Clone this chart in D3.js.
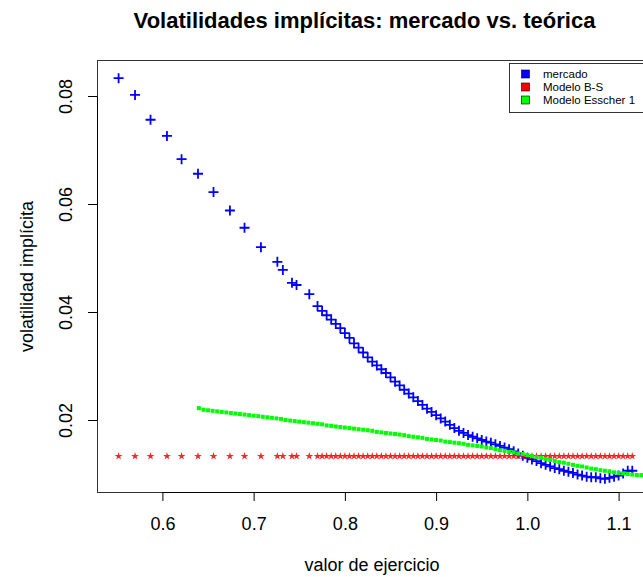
<!DOCTYPE html>
<html>
<head>
<meta charset="utf-8">
<script src="https://cdn.jsdelivr.net/npm/d3@7"></script>
<style>
body { margin: 0; background: #fff; }
text { font-family: "Liberation Sans", Arial, sans-serif; fill: #000; }
</style>
</head>
<body>
<svg width="643" height="577"></svg>
<script>
// strikes and implied vols
var marketStrike = [0.552, 0.570, 0.587, 0.605, 0.621, 0.639, 0.656, 0.674, 0.690, 0.708, 0.726, 0.732, 0.742, 0.747, 0.761,
    0.770, 0.775, 0.780, 0.785, 0.790, 0.795, 0.800, 0.805, 0.810, 0.815, 0.820, 0.825, 0.830, 0.835, 0.840, 0.845,
    0.850, 0.855, 0.860, 0.865, 0.870, 0.875, 0.880, 0.885, 0.890, 0.895, 0.900, 0.905, 0.910, 0.915, 0.920, 0.925,
    0.930, 0.935, 0.940, 0.945, 0.950, 0.955, 0.960, 0.965, 0.970, 0.975, 0.980, 0.985, 0.990, 0.995, 1.000, 1.005,
    1.010, 1.015, 1.020, 1.025, 1.030, 1.035, 1.040, 1.045, 1.050, 1.055, 1.060, 1.065, 1.070, 1.075, 1.080, 1.085,
    1.090, 1.095, 1.100, 1.105, 1.110, 1.115];
var marketVol = [0.0833, 0.0802, 0.0756, 0.0726, 0.0683, 0.0656, 0.0622, 0.0588, 0.0556, 0.0520, 0.0493, 0.0478, 0.0454, 0.0450, 0.0433,
    0.0411, 0.0402, 0.0394, 0.0386, 0.0378, 0.0370, 0.0361, 0.0352, 0.0342, 0.0334,
    0.0325, 0.0316, 0.0308, 0.0301, 0.0294, 0.0287, 0.0279, 0.0271, 0.0264, 0.0256,
    0.0249, 0.0242, 0.0235, 0.0228, 0.0221, 0.0215, 0.0209, 0.0203, 0.0197, 0.0191,
    0.0185, 0.0180, 0.0176, 0.0172, 0.0169, 0.0166, 0.0163, 0.0160, 0.0158, 0.0155,
    0.0152, 0.0149, 0.0146, 0.0142, 0.0138, 0.0134, 0.0130, 0.0127, 0.0124, 0.0120,
    0.0117, 0.0114, 0.0111, 0.0109, 0.0106, 0.0104, 0.0102, 0.0099, 0.0097, 0.0095,
    0.0094, 0.0094, 0.0092, 0.0091, 0.0093, 0.0095, 0.0097, 0.0101, 0.0106, 0.0106];

// Black-Scholes gives one flat volatility for every strike
var bsSigma = 0.0133;

var esscherStrike = [0.640, 0.645, 0.650, 0.655, 0.660, 0.665, 0.670, 0.675, 0.680, 0.685, 0.690, 0.695, 0.700,
    0.705, 0.710, 0.715, 0.720, 0.725, 0.730, 0.735, 0.740, 0.745, 0.750, 0.755, 0.760, 0.765, 0.770, 0.775, 0.780,
    0.785, 0.790, 0.795, 0.800, 0.805, 0.810, 0.815, 0.820, 0.825, 0.830, 0.835, 0.840, 0.845, 0.850, 0.855, 0.860,
    0.865, 0.870, 0.875, 0.880, 0.885, 0.890, 0.895, 0.900, 0.905, 0.910, 0.915, 0.920, 0.925, 0.930, 0.935, 0.940,
    0.945, 0.950, 0.955, 0.960, 0.965, 0.970, 0.975, 0.980, 0.985, 0.990, 0.995, 1.000, 1.005, 1.010, 1.015, 1.020,
    1.025, 1.030, 1.035, 1.040, 1.045, 1.050, 1.055, 1.060, 1.065, 1.070, 1.075, 1.080, 1.085, 1.090, 1.095, 1.100,
    1.105, 1.110, 1.115, 1.120, 1.125, 1.130, 1.135, 1.140];
var esscherVol = [0.0222, 0.0219, 0.0218, 0.0217, 0.0216, 0.0215, 0.0214, 0.0213, 0.0212, 0.0211, 0.0210, 0.0209, 0.0208,
    0.0207, 0.0206, 0.0205, 0.0204, 0.0203, 0.0202, 0.0200, 0.0199, 0.0198, 0.0197, 0.0196, 0.0195, 0.0194, 0.0193, 0.0192, 0.0190,
    0.0189, 0.0188, 0.0187, 0.0186, 0.0185, 0.0184, 0.0183, 0.0182, 0.0181, 0.0180, 0.0178, 0.0177, 0.0176, 0.0175, 0.0174, 0.0173,
    0.0172, 0.0170, 0.0169, 0.0168, 0.0167, 0.0165, 0.0164, 0.0163, 0.0162, 0.0160, 0.0159, 0.0158, 0.0157, 0.0156, 0.0154, 0.0153,
    0.0152, 0.0151, 0.0149, 0.0148, 0.0146, 0.0144, 0.0143, 0.0141, 0.0140, 0.0138, 0.0137, 0.0135, 0.0133, 0.0131, 0.0130, 0.0128,
    0.0126, 0.0124, 0.0122, 0.0121, 0.0119, 0.0117, 0.0115, 0.0114, 0.0112, 0.0110, 0.0109, 0.0107, 0.0106, 0.0105, 0.0103, 0.0102,
    0.0101, 0.0100, 0.0099, 0.0098, 0.0098, 0.0097, 0.0096, 0.0096];

var xTicks = [0.6, 0.7, 0.8, 0.9, 1.0, 1.1];
var yTicks = [0.02, 0.04, 0.06, 0.08];
var legendLabels = ['mercado', 'Modelo B-S', 'Modelo Esscher 1'];
var legendColors = ['#0000ff', '#ff0000', '#00ff00'];

var svg = d3.select('svg');

// plot region (the right side runs past the window, like the original)
var box = {l: 97.5, t: 60.5, r: 760, b: 492.5};

var x = d3.scaleLinear().domain([0.6, 1.1]).range([162.4, 618.6]);
var y = d3.scaleLinear().domain([0.02, 0.08]).range([420, 96]);

svg.append('clipPath').attr('id', 'plotclip')
  .append('rect')
  .attr('x', box.l).attr('y', box.t)
  .attr('width', box.r - box.l).attr('height', box.b - box.t);

// title
svg.append('text')
  .attr('x', 364.5).attr('y', 28)
  .attr('text-anchor', 'middle')
  .style('font-size', '22px').style('font-weight', 'bold')
  .text('Volatilidades implícitas: mercado vs. teórica');

// frame
svg.append('rect')
  .attr('x', box.l).attr('y', box.t)
  .attr('width', box.r - box.l).attr('height', box.b - box.t)
  .attr('fill', 'none').attr('stroke', '#333').attr('stroke-width', 1);

// axes
var xAxis = svg.append('g')
  .attr('transform', 'translate(0,492)')
  .call(d3.axisBottom(x).tickValues(xTicks).tickSize(9).tickSizeOuter(0).tickFormat(d3.format('.1f')));
xAxis.selectAll('text')
  .attr('y', 38).attr('dy', null)
  .style('font-size', '18px');

var yAxis = svg.append('g')
  .attr('transform', 'translate(97,0)')
  .call(d3.axisLeft(y).tickValues(yTicks).tickSize(9).tickSizeOuter(0).tickFormat(d3.format('.2f')));
yAxis.selectAll('text')
  .attr('x', null).attr('dy', null)
  .attr('text-anchor', 'middle')
  .attr('transform', 'translate(-25,0) rotate(-90)')
  .style('font-size', '18px');

svg.selectAll('.domain, .tick line').attr('stroke', '#000');

// axis titles
svg.append('text')
  .attr('x', 372).attr('y', 571)
  .attr('text-anchor', 'middle')
  .style('font-size', '18px')
  .text('valor de ejercicio');

svg.append('text')
  .attr('transform', 'translate(33,' + ((box.t + box.b) / 2) + ') rotate(-90)')
  .attr('text-anchor', 'middle')
  .style('font-size', '18px')
  .text('volatilidad implícita');

var plot = svg.append('g').attr('clip-path', 'url(#plotclip)');

// market: blue crosses
var market = marketStrike.map(function(k, i) { return {k: k, v: marketVol[i]}; });
var plus = 5;
plot.selectAll('.market')
  .data(market)
  .enter()
  .append('path')
  .attr('class', 'market')
  .attr('d', function(d) {
      var cx = x(d.k), cy = y(d.v);
      return 'M' + (cx - plus) + ',' + cy + 'H' + (cx + plus) +
             'M' + cx + ',' + (cy - plus) + 'V' + (cy + plus);
  })
  .attr('stroke', legendColors[0])
  .attr('stroke-width', 1.8)
  .attr('fill', 'none');

// Black-Scholes: red stars at each market strike
var star = d3.symbol().type(d3.symbolStar).size(19);
plot.selectAll('.bs')
  .data(marketStrike)
  .enter()
  .append('path')
  .attr('class', 'bs')
  .attr('transform', function(d) { return 'translate(' + x(d) + ',' + y(bsSigma) + ')'; })
  .attr('d', star)
  .attr('fill', legendColors[1])
  .attr('fill-opacity', 0.85);

// Esscher model: small green squares
var esscher = esscherStrike.map(function(k, i) { return {k: k, v: esscherVol[i]}; });
plot.selectAll('.esscher')
  .data(esscher)
  .enter()
  .append('rect')
  .attr('class', 'esscher')
  .attr('x', function(d) { return x(d.k) - 2; })
  .attr('y', function(d) { return y(d.v) - 2; })
  .attr('width', 4)
  .attr('height', 4)
  .attr('fill', legendColors[2]);

// legend
var legend = svg.append('g').attr('transform', 'translate(509.5,63.5)');
legend.append('rect')
  .attr('width', 200).attr('height', 49)
  .attr('fill', '#fff').attr('stroke', '#333');

var items = legend.selectAll('.item')
  .data(legendLabels)
  .enter()
  .append('g')
  .attr('class', 'item')
  .attr('transform', function(d, i) { return 'translate(0,' + (10.5 + i * 13) + ')'; });

items.append('rect')
  .attr('x', 12).attr('y', -4)
  .attr('width', 8).attr('height', 8)
  .attr('fill', function(d, i) { return legendColors[i]; })
  .attr('stroke', '#000').attr('stroke-width', 0.6);

items.append('text')
  .attr('x', 33.5).attr('y', 4)
  .style('font-size', '11.5px')
  .text(function(d) { return d; });
</script>
</body>
</html>
